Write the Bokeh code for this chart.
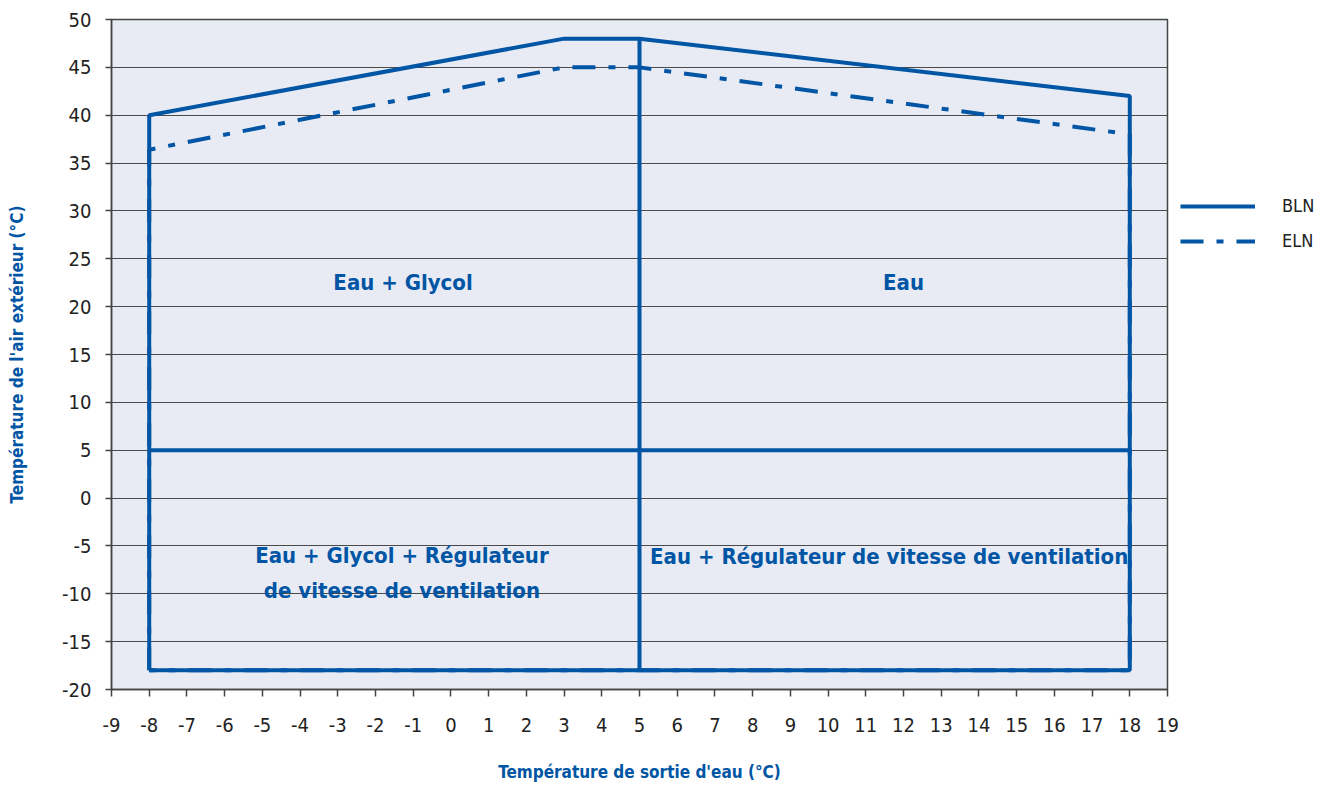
from bokeh.plotting import figure
from bokeh.layouts import row
from bokeh.models import Legend, LegendItem, Range1d, FixedTicker, CustomJSTickFormatter
from bokeh.core.properties import value
from bokeh.embed import file_html
from bokeh.resources import INLINE

# ---- data ----
bln_x = [-8, -8, 3, 5, 18, 18, -8]
bln_y = [-18, 40, 48, 48, 42, -18, -18]
eln_x = [-8, -8, 3, 5, 18, 18, -8]
eln_y = [-18, 36.4, 45, 45, 38, -18, -18]
divider_v_x = [5, 5]
divider_v_y = [-18, 48]
divider_h_x = [-8, 18]
divider_h_y = [5, 5]
zone_labels = ["Eau + Glycol", "Eau", "Eau + Glycol + Régulateur\nde vitesse de ventilation",
               "Eau + Régulateur de vitesse de ventilation"]
zone_x = [-1.27, 12.0, -1.3, 11.62]
zone_y = [22.57, 22.57, -7.83, -6.1]
series_names = ["BLN", "ELN"]
x_ticks = list(range(-9, 20))
y_ticks = list(range(-20, 51, 5))

BLUE = "#0055A4"
FONT = "DejaVu Sans Condensed"
ELN_DASH = "23 13 7 13"

p = figure(width=1180, height=787, output_backend="svg", toolbar_location=None,
           x_range=Range1d(-9, 19), y_range=Range1d(-20, 50),
           min_border_left=111, min_border_top=19, min_border_right=13, min_border_bottom=98)
p.background_fill_color = "#E8EBF4"
p.border_fill_color = "white"
p.outline_line_color = "#444444"
p.outline_line_width = 1.5

p.xgrid.grid_line_color = None
p.ygrid.grid_line_color = "#4a4a4a"
p.ygrid.grid_line_width = 1

fmt = CustomJSTickFormatter(code="return String(tick);")
for ax in (p.xaxis[0], p.yaxis[0]):
    ax.formatter = fmt
    ax.axis_line_color = "#444444"
    ax.axis_line_width = 1.5
    ax.major_tick_line_color = "#444444"
    ax.major_tick_line_width = 1.5
    ax.major_tick_in = 0
    ax.minor_tick_line_color = None
    ax.major_label_text_font = FONT
    ax.major_label_text_font_size = "20px"
    ax.major_label_text_color = "#222222"
    ax.axis_label_text_font = FONT
    ax.axis_label_text_font_style = "bold"
    ax.axis_label_text_font_size = "17px"
    ax.axis_label_text_color = BLUE

p.xaxis.ticker = FixedTicker(ticks=x_ticks)
p.yaxis.ticker = FixedTicker(ticks=y_ticks)
p.xaxis.major_tick_out = 7
p.yaxis.major_tick_out = 6
p.xaxis.major_label_standoff = 21
p.yaxis.major_label_standoff = 14
p.xaxis.axis_label = "Température de sortie d'eau (°C)"
p.yaxis.axis_label = "Température de l'air extérieur (°C)"
p.xaxis.axis_label_standoff = 27
p.yaxis.axis_label_standoff = 32

p.line(eln_x, eln_y, line_color=BLUE, line_width=4, line_dash=ELN_DASH)
p.line(bln_x, bln_y, line_color=BLUE, line_width=4)
p.line(divider_v_x, divider_v_y, line_color=BLUE, line_width=4)
p.line(divider_h_x, divider_h_y, line_color=BLUE, line_width=4)

p.text(zone_x, zone_y, text=zone_labels, text_align="center", text_baseline="middle",
       text_font=value(FONT), text_font_style="bold", text_font_size="22px",
       text_color=BLUE, text_line_height=1.4)

# ---- legend panel on the right ----
lg = figure(width=148, height=787, output_backend="svg", toolbar_location=None,
            x_axis_location=None, y_axis_location=None,
            x_range=Range1d(0, 1), y_range=Range1d(0, 1),
            min_border=0, min_border_left=0, min_border_right=0,
            min_border_top=0, min_border_bottom=0)
lg.outline_line_color = None
lg.xgrid.grid_line_color = None
lg.ygrid.grid_line_color = None
lg.background_fill_color = "white"
lg.border_fill_color = "white"
# single-point renderers: they draw nothing themselves, only their legend glyphs
r_bln = lg.line(x=[-1], y=[-1], line_color=BLUE, line_width=4)
r_eln = lg.line(x=[-1], y=[-1], line_color=BLUE, line_width=4, line_dash=ELN_DASH)

legend = Legend(items=[LegendItem(label=series_names[0], renderers=[r_bln]),
                       LegendItem(label=series_names[1], renderers=[r_eln])],
                location=(0, 438), orientation="vertical",
                glyph_width=75, glyph_height=20, label_height=20, label_standoff=27,
                spacing=14, padding=0, margin=0,
                border_line_alpha=0, background_fill_alpha=0,
                label_text_font=FONT, label_text_font_size="18px", label_text_color="#222222")
lg.add_layout(legend)

layout = row(p, lg, spacing=0)
open("out.html", "w").write(file_html(layout, INLINE))
